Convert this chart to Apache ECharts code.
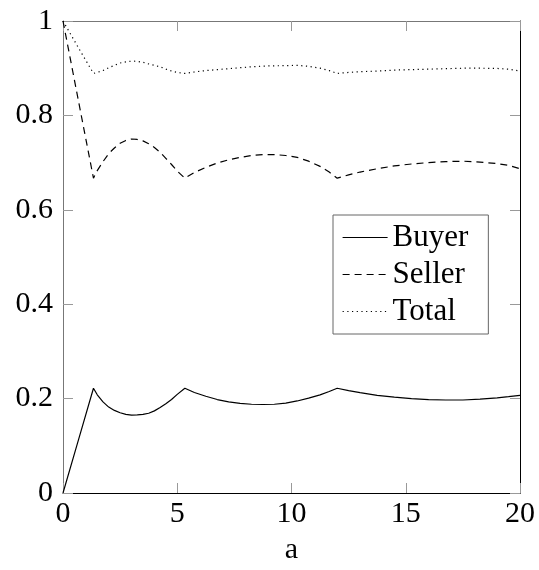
<!DOCTYPE html>
<html>
<head>
<meta charset="utf-8">
<script src="https://cdn.jsdelivr.net/npm/echarts@6/dist/echarts.min.js"></script>
<style>html,body{margin:0;padding:0;background:#fff;}#c{width:539px;height:570px;}</style>
</head>
<body>
<div id="c"></div>
<script>
const aValues = [0, 0.667, 1.333, 1.5, 1.75, 2.0, 2.25, 2.5, 2.75, 3.0, 3.25, 3.5, 3.75, 4.0, 4.25, 4.5, 4.75, 5.0, 5.333,
  5.75, 6.25, 6.75, 7.25, 7.75, 8.25, 8.75, 9.25, 9.75, 10.25, 10.75, 11.25, 11.65, 12.0,
  12.5, 13.0, 13.75, 14.5, 15.25, 16.0, 16.75, 17.5, 18.25, 19.0, 19.5, 20];
const buyer  = [0, 0.111, 0.222, 0.208, 0.193, 0.182, 0.175, 0.170, 0.1665, 0.165, 0.1655, 0.1665, 0.169, 0.174, 0.181, 0.189, 0.198, 0.209, 0.222,
  0.213, 0.205, 0.198, 0.193, 0.190, 0.188, 0.1875, 0.188, 0.1905, 0.195, 0.201, 0.208, 0.215, 0.222,
  0.217, 0.2125, 0.207, 0.203, 0.200, 0.198, 0.197, 0.197, 0.199, 0.2015, 0.204, 0.207];
const seller = [1, 0.833, 0.667, 0.683, 0.702, 0.719, 0.731, 0.741, 0.747, 0.750, 0.749, 0.746, 0.740, 0.732, 0.722, 0.709, 0.696, 0.682, 0.667,
  0.679, 0.690, 0.699, 0.706, 0.711, 0.715, 0.717, 0.717, 0.715, 0.711, 0.703, 0.692, 0.680, 0.667,
  0.674, 0.680, 0.687, 0.693, 0.697, 0.700, 0.702, 0.703, 0.701, 0.698, 0.694, 0.687];
const total  = [1, 0.944, 0.889, 0.891, 0.895, 0.901, 0.906, 0.911, 0.9135, 0.915, 0.9145, 0.9125, 0.909, 0.906, 0.903, 0.898, 0.894, 0.891, 0.889,
  0.892, 0.895, 0.897, 0.899, 0.901, 0.903, 0.9045, 0.905, 0.9055, 0.906, 0.904, 0.900, 0.895, 0.889,
  0.891, 0.8925, 0.894, 0.896, 0.897, 0.898, 0.899, 0.900, 0.900, 0.8995, 0.898, 0.894];
const seriesNames = ['Buyer', 'Seller', 'Total'];
const xTicks = [0, 5, 10, 15, 20];
const yTicks = [0, 0.2, 0.4, 0.6, 0.8, 1];

const FONT = 'Liberation Serif';
const pairs = arr => aValues.map((a, i) => [a, arr[i]]);
const tickStyle = {show: true, inside: true, length: 10, lineStyle: {color: '#999', width: 1}};

const chart = echarts.init(document.getElementById('c'), null, {renderer: 'canvas'});
chart.setOption({
  animation: false,
  backgroundColor: '#fff',
  grid: {left: 63, right: 19, top: 21, bottom: 69},
  legend: {
    orient: 'vertical',
    left: 333, top: 215,
    padding: [7, 20, 7, 9],
    itemGap: 6,
    itemWidth: 45, itemHeight: 14,
    borderColor: '#666', borderWidth: 1,
    itemStyle: {opacity: 0},
    lineStyle: {width: 1.2},
    textStyle: {fontFamily: FONT, fontSize: 31, lineHeight: 31, color: '#000'},
    data: seriesNames
  },
  xAxis: [{
    type: 'value', min: 0, max: 20, interval: 5, position: 'bottom',
    name: 'a', nameLocation: 'middle', nameGap: 42,
    nameTextStyle: {fontFamily: FONT, fontSize: 30, color: '#000'},
    axisLine: {show: true, onZero: false, lineStyle: {color: '#000', width: 1}},
    axisTick: tickStyle,
    axisLabel: {fontFamily: FONT, fontSize: 30, color: '#000', margin: 6,
      formatter: v => xTicks.includes(v) ? String(v) : ''},
    splitLine: {show: false}
  }, {
    type: 'value', min: 0, max: 20, interval: 5, position: 'top',
    axisLine: {show: true, onZero: false, lineStyle: {color: '#777', width: 1}},
    axisTick: tickStyle, axisLabel: {show: false}, splitLine: {show: false}
  }],
  yAxis: [{
    type: 'value', min: 0, max: 1, interval: 0.2, position: 'left',
    axisLine: {show: true, onZero: false, lineStyle: {color: '#777', width: 1}},
    axisTick: tickStyle,
    axisLabel: {fontFamily: FONT, fontSize: 30, color: '#000', margin: 10,
      formatter: v => { const t = yTicks.find(y => Math.abs(y - v) < 1e-9); return t === undefined ? '' : String(t); }},
    splitLine: {show: false}
  }, {
    type: 'value', min: 0, max: 1, interval: 0.2, position: 'right',
    axisLine: {show: true, onZero: false, lineStyle: {color: '#000', width: 1}},
    axisTick: tickStyle, axisLabel: {show: false}, splitLine: {show: false}
  }],
  series: [
    {name: seriesNames[0], type: 'line', data: pairs(buyer), showSymbol: false, symbol: 'none',
     lineStyle: {color: '#000', width: 1.2, type: 'solid'}, itemStyle: {color: '#000'}},
    {name: seriesNames[1], type: 'line', data: pairs(seller), showSymbol: false, symbol: 'none',
     lineStyle: {color: '#000', width: 1.2, type: [7, 5]}, itemStyle: {color: '#000'}},
    {name: seriesNames[2], type: 'line', data: pairs(total), showSymbol: false, symbol: 'none',
     lineStyle: {color: '#000', width: 1.2, type: [1.2, 3.5]}, itemStyle: {color: '#000'}}
  ]
});
</script>
</body>
</html>
